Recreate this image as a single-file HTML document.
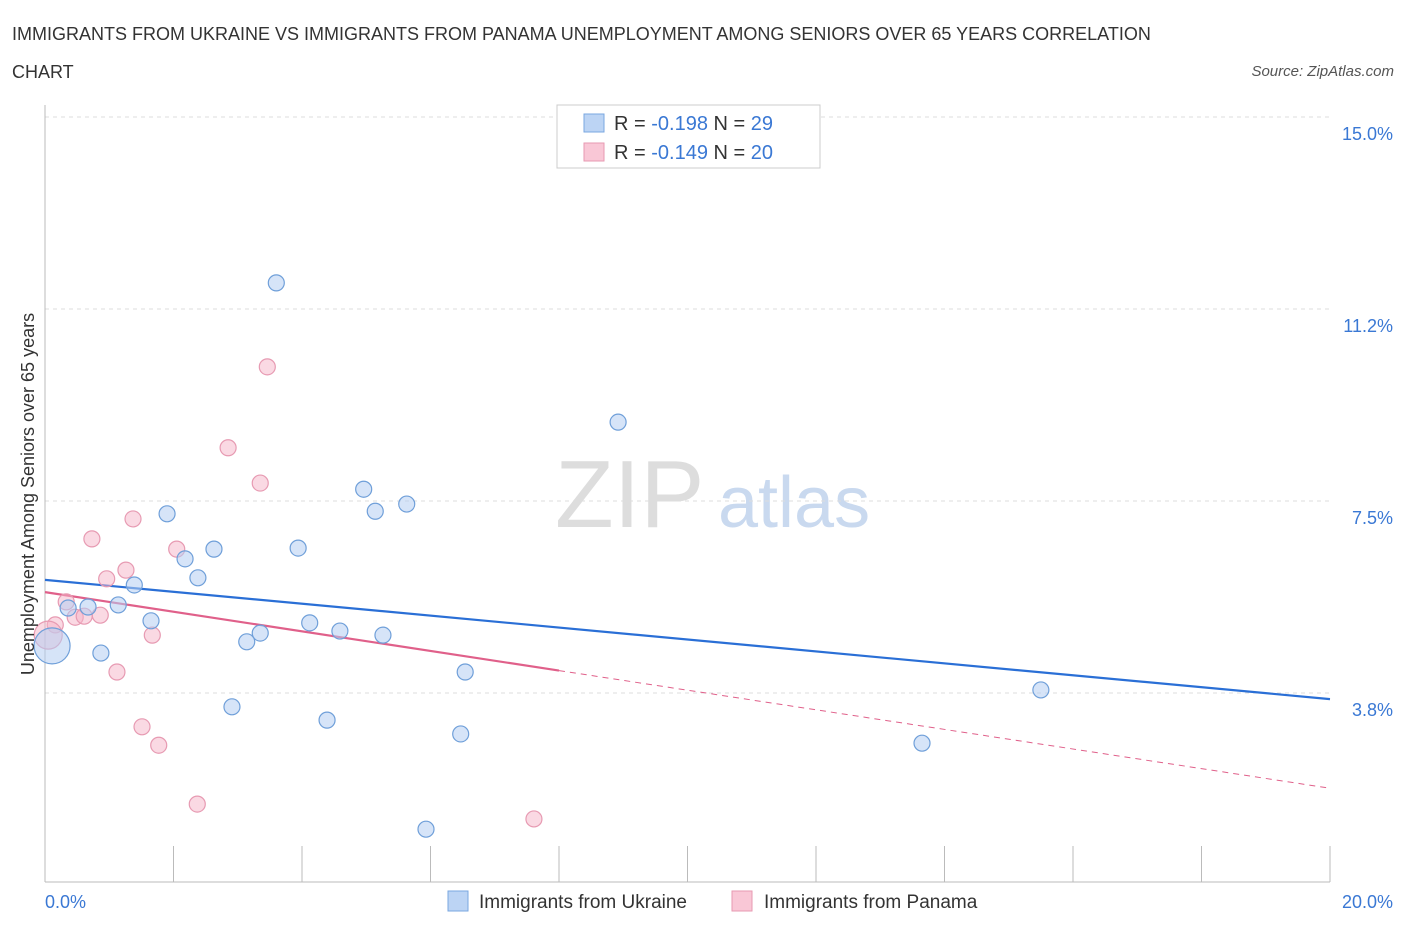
<!DOCTYPE html>
<html><head><meta charset="utf-8"><style>
body{margin:0;background:#fff;font-family:"Liberation Sans",sans-serif;}
svg text{font-family:"Liberation Sans",sans-serif;}
</style></head><body>
<svg id="chart" width="1406" height="930" xmlns="http://www.w3.org/2000/svg">
<text x="12" y="40" font-size="18" fill="#333">IMMIGRANTS FROM UKRAINE VS IMMIGRANTS FROM PANAMA UNEMPLOYMENT AMONG SENIORS OVER 65 YEARS CORRELATION</text>
<text x="12" y="78" font-size="18" fill="#333">CHART</text>
<text x="1394" y="76" font-size="15" fill="#555" font-style="italic" text-anchor="end">Source: ZipAtlas.com</text>
<text x="555" y="527" font-size="96" fill="#ddd" font-family="Liberation Serif,serif">ZIP</text>
<text x="718" y="527" font-size="72" fill="#c9d9ef">atlas</text>
<g id="grid"></g><g id="axes"></g><g id="trends"></g><g id="points"></g>
<g>
<rect x="557" y="105" width="263" height="63" fill="#fff" stroke="#ccc"/>
<rect x="584" y="114" width="20" height="18" fill="#bcd4f4" stroke="#7aa7e0"/>
<text x="614" y="130" font-size="20" fill="#333">R = <tspan fill="#3a78d4">-0.198</tspan>   N = <tspan fill="#3a78d4">29</tspan></text>
<rect x="584" y="143" width="20" height="18" fill="#f9c7d6" stroke="#e79ab2"/>
<text x="614" y="159" font-size="20" fill="#333">R = <tspan fill="#3a78d4">-0.149</tspan>   N = <tspan fill="#3a78d4">20</tspan></text>
</g>
<g>
<rect x="448" y="891" width="20" height="20" fill="#bcd4f4" stroke="#7aa7e0"/>
<text x="479" y="908" font-size="19" fill="#333">Immigrants from Ukraine</text>
<rect x="732" y="891" width="20" height="20" fill="#f9c7d6" stroke="#e79ab2"/>
<text x="764" y="908" font-size="19" fill="#333">Immigrants from Panama</text>
</g>
<text transform="translate(34,494) rotate(-90)" font-size="18" fill="#333" text-anchor="middle">Unemployment Among Seniors over 65 years</text>
</svg>
<script>
const yTicks=[15,11.25,7.5,3.75];
const yTickLabels=["15.0%","11.2%","7.5%","3.8%"];
const xTickLabels=["0.0%","20.0%"];
const ukraineX=[3.60,8.92,4.96,5.14,5.63,1.90,2.63,3.94,2.18,2.38,1.39,1.14,0.67,0.36,1.65,4.12,4.59,3.35,5.26,3.14,0.87,6.54,15.50,2.91,4.39,6.47,13.65,5.93,0.11];
const ukraineY=[11.76,9.04,7.73,7.30,7.44,7.25,6.56,6.58,6.37,6.00,5.86,5.47,5.43,5.41,5.16,5.12,4.96,4.92,4.88,4.75,4.53,4.16,3.81,3.48,3.22,2.95,2.77,1.09,4.67];
const panamaX=[3.46,2.85,3.35,1.37,0.73,2.05,1.26,0.96,0.33,0.47,0.86,0.61,0.16,0.05,1.67,1.12,1.51,1.77,2.37,7.61];
const panamaY=[10.12,8.54,7.85,7.15,6.76,6.56,6.15,5.98,5.53,5.23,5.27,5.25,5.08,4.88,4.88,4.16,3.09,2.73,1.58,1.29];
const ukraineTrend=[5.96,3.63];
const panamaTrend=[5.72,1.89];
const panamaSolidEnd=8.0;
const NS="http://www.w3.org/2000/svg";
const X=v=>45+v*64.25, Y=v=>117+(15-v)*51.2;
function mk(t,a,p){const e=document.createElementNS(NS,t);for(const k in a)e.setAttribute(k,a[k]);document.getElementById(p).appendChild(e);return e;}
yTicks.forEach((t,i)=>{
 const l=mk('line',{x1:45,x2:1330,y1:Y(t),y2:Y(t),stroke:'#ddd','stroke-dasharray':'4,4'},'grid');
 
 
 const tx=mk('text',{x:1393,y:Y(t)+23,'font-size':18,fill:'#3a78d4','text-anchor':'end'},'grid');
 tx.textContent=yTickLabels[i];
 
 
});
const ax=mk('line',{x1:45,x2:1330,y1:882,y2:882,stroke:'#bbb'},'axes');


const ay=mk('line',{x1:45,x2:45,y1:105,y2:882,stroke:'#bbb'},'axes');


for(let i=0;i<=10;i++){const tk=mk('line',{x1:45+i*128.5,x2:45+i*128.5,y1:846,y2:882,stroke:'#bbb'},'axes');
 
 }
[[45,'start',0],[1393,'end',1]].forEach(([x,a,i])=>{const t=mk('text',{x:x,y:908,'font-size':18,fill:'#3a78d4','text-anchor':a},'axes');t.textContent=xTickLabels[i];
 
 });
const bt=mk('line',{x1:X(0),y1:Y(ukraineTrend[0]),x2:X(20),y2:Y(ukraineTrend[1]),stroke:'#2a6fd6','stroke-width':2.2},'trends');


const pm=v=>panamaTrend[0]+(panamaTrend[1]-panamaTrend[0])*v/20;
const pt=mk('line',{x1:X(0),y1:Y(pm(0)),x2:X(panamaSolidEnd),y2:Y(pm(panamaSolidEnd)),stroke:'#e0608a','stroke-width':2.2},'trends');


const pd=mk('line',{x1:X(panamaSolidEnd),y1:Y(pm(panamaSolidEnd)),x2:X(20),y2:Y(pm(20)),stroke:'#e0608a','stroke-width':1,'stroke-dasharray':'6,5'},'trends');


panamaX.forEach((x,i)=>{const c=mk('circle',{cx:X(x),cy:Y(panamaY[i]),r:i==13?14:8,fill:'rgba(246,180,200,0.5)',stroke:'#e79ab2','stroke-width':1.2},'points');
 
 });
ukraineX.forEach((x,i)=>{const c=mk('circle',{cx:X(x),cy:Y(ukraineY[i]),r:i==28?18:8,fill:'rgba(180,206,242,0.55)',stroke:'#6f9fd9','stroke-width':1.2},'points');
 
 });
</script>
</body></html>
